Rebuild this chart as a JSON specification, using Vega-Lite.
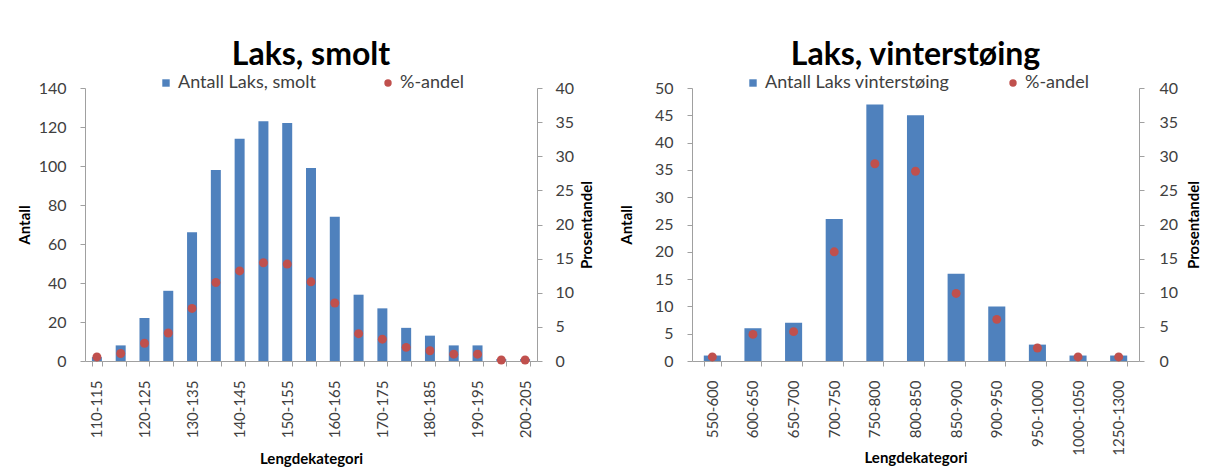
{
  "$schema": "https://vega.github.io/schema/vega-lite/v6.json",
  "padding": {"left": 17, "top": 39, "right": 5, "bottom": 0},
  "background": "white",
  "config": {
    "font": "Lato",
    "view": {"stroke": null},
    "axis": {
      "grid": false,
      "domainColor": "#a0a0a0",
      "tickColor": "#a0a0a0",
      "labelColor": "#404040",
      "labelFont": "Lato",
      "labelFontSize": 16,
      "titleFont": "Lato",
      "titleFontSize": 15,
      "titleFontWeight": "bold",
      "titleColor": "#000000",
      "tickSize": 5
    },
    "axisX": {"labelFontSize": 15},
    "legend": {"labelFont": "Lato", "labelFontSize": 18, "labelColor": "#404040", "labelLimit": 400},
    "title": {"font": "Lato", "fontSize": 32, "fontWeight": "bold", "color": "#000000", "anchor": "middle", "offset": 2}
  },
  "datasets": {
    "smolt": [
      {"kategori": "110-115", "antall": 2, "andel": 0.6},
      {"kategori": "115-120", "antall": 8, "andel": 1.1},
      {"kategori": "120-125", "antall": 22, "andel": 2.6},
      {"kategori": "125-130", "antall": 36, "andel": 4.1},
      {"kategori": "130-135", "antall": 66, "andel": 7.7},
      {"kategori": "135-140", "antall": 98, "andel": 11.5},
      {"kategori": "140-145", "antall": 114, "andel": 13.2},
      {"kategori": "145-150", "antall": 123, "andel": 14.4},
      {"kategori": "150-155", "antall": 122, "andel": 14.2},
      {"kategori": "155-160", "antall": 99, "andel": 11.6},
      {"kategori": "160-165", "antall": 74, "andel": 8.5},
      {"kategori": "165-170", "antall": 34, "andel": 4.0},
      {"kategori": "170-175", "antall": 27, "andel": 3.2},
      {"kategori": "175-180", "antall": 17, "andel": 2.0},
      {"kategori": "180-185", "antall": 13, "andel": 1.5},
      {"kategori": "185-190", "antall": 8, "andel": 1.0},
      {"kategori": "190-195", "antall": 8, "andel": 1.0},
      {"kategori": "195-200", "antall": 1, "andel": 0.15},
      {"kategori": "200-205", "antall": 1, "andel": 0.15}
    ],
    "vinter": [
      {"kategori": "550-600", "antall": 1, "andel": 0.6},
      {"kategori": "600-650", "antall": 6, "andel": 3.9},
      {"kategori": "650-700", "antall": 7, "andel": 4.3},
      {"kategori": "700-750", "antall": 26, "andel": 16.0},
      {"kategori": "750-800", "antall": 47, "andel": 28.9},
      {"kategori": "800-850", "antall": 45, "andel": 27.8},
      {"kategori": "850-900", "antall": 16, "andel": 9.9},
      {"kategori": "900-950", "antall": 10, "andel": 6.1},
      {"kategori": "950-1000", "antall": 3, "andel": 1.9},
      {"kategori": "1000-1050", "antall": 1, "andel": 0.6},
      {"kategori": "1250-1300", "antall": 1, "andel": 0.6}
    ]
  },
  "spacing": 24,
  "resolve": {"scale": {"color": "independent"}, "legend": {"color": "independent"}},
  "hconcat": [
    {
      "title": "Laks, smolt",
      "width": 452,
      "height": 273,
      "data": {"name": "smolt"},
      "encoding": {
        "x": {
          "field": "kategori",
          "type": "nominal",
          "sort": null,
          "scale": {"paddingInner": 0.58, "paddingOuter": 0.29},
          "axis": {
            "title": "Lengdekategori",
            "labelAngle": -90,
            "tickBand": "extent",
            "labelPadding": 14,
            "titlePadding": 14,
            "labelExpr": "toNumber(split(datum.value, '-')[0]) % 10 == 0 ? datum.label : ''"
          }
        }
      },
      "layer": [
        {
          "mark": {"type": "bar"},
          "encoding": {
            "y": {
              "field": "antall",
              "type": "quantitative",
              "scale": {"domain": [0, 140]},
              "axis": {"title": "Antall", "values": [0, 20, 40, 60, 80, 100, 120, 140], "labelPadding": 14, "titlePadding": 6}
            },
            "color": {
              "datum": "Antall Laks, smolt",
              "scale": {"domain": ["Antall Laks, smolt", "%-andel"], "range": ["#4F81BD", "#C0504D"]},
              "legend": {
                "title": null,
                "orient": "none",
                "legendX": 72,
                "legendY": -14,
                "direction": "horizontal",
                "columnPadding": 63,
                "symbolSize": 55,
                "labelOffset": 3,
                "encode": {"symbols": {"update": {"shape": {"signal": "datum.value === '%-andel' ? 'circle' : 'square'"}}}}
              }
            }
          }
        },
        {
          "mark": {"type": "point", "filled": true, "size": 80, "opacity": 1},
          "encoding": {
            "y": {
              "field": "andel",
              "type": "quantitative",
              "scale": {"domain": [0, 40]},
              "axis": {"title": "Prosentandel", "orient": "right", "titleAngle": -90, "titleBaseline": "top", "values": [0, 5, 10, 15, 20, 25, 30, 35, 40], "labelPadding": 13, "titlePadding": 6}
            },
            "color": {"datum": "%-andel"}
          }
        }
      ],
      "resolve": {"scale": {"y": "independent"}}
    },
    {
      "title": "Laks, vinterstøing",
      "width": 447,
      "height": 273,
      "data": {"name": "vinter"},
      "encoding": {
        "x": {
          "field": "kategori",
          "type": "nominal",
          "sort": null,
          "scale": {"paddingInner": 0.58, "paddingOuter": 0.29},
          "axis": {
            "title": "Lengdekategori",
            "labelAngle": -90,
            "tickBand": "extent",
            "labelPadding": 14,
            "titlePadding": -5
          }
        }
      },
      "layer": [
        {
          "mark": {"type": "bar"},
          "encoding": {
            "y": {
              "field": "antall",
              "type": "quantitative",
              "scale": {"domain": [0, 50]},
              "axis": {"title": "Antall", "values": [0, 5, 10, 15, 20, 25, 30, 35, 40, 45, 50], "labelPadding": 14, "titlePadding": 20}
            },
            "color": {
              "datum": "Antall Laks vinterstøing",
              "scale": {"domain": ["Antall Laks vinterstøing", "%-andel"], "range": ["#4F81BD", "#C0504D"]},
              "legend": {
                "title": null,
                "orient": "none",
                "legendX": 52,
                "legendY": -14,
                "direction": "horizontal",
                "columnPadding": 54,
                "symbolSize": 55,
                "labelOffset": 3,
                "encode": {"symbols": {"update": {"shape": {"signal": "datum.value === '%-andel' ? 'circle' : 'square'"}}}}
              }
            }
          }
        },
        {
          "mark": {"type": "point", "filled": true, "size": 80, "opacity": 1},
          "encoding": {
            "y": {
              "field": "andel",
              "type": "quantitative",
              "scale": {"domain": [0, 40]},
              "axis": {"title": "Prosentandel", "orient": "right", "titleAngle": -90, "titleBaseline": "top", "values": [0, 5, 10, 15, 20, 25, 30, 35, 40], "labelPadding": 15, "titlePadding": 9}
            },
            "color": {"datum": "%-andel"}
          }
        }
      ],
      "resolve": {"scale": {"y": "independent"}}
    }
  ]
}
